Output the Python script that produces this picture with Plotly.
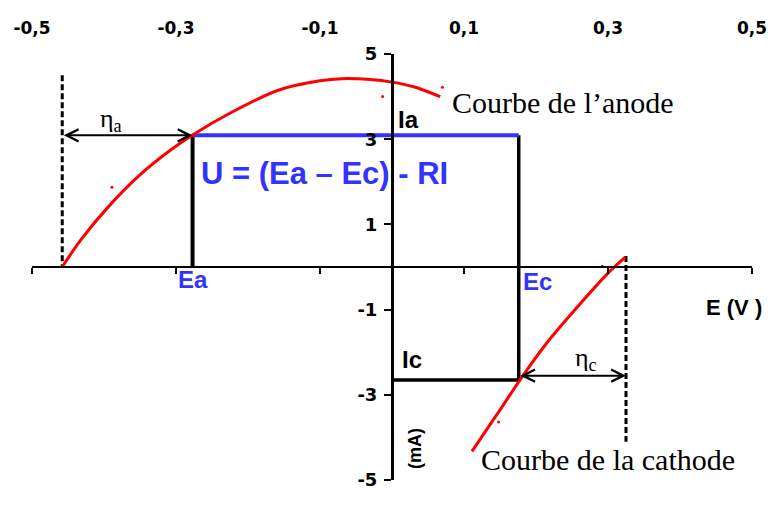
import plotly.graph_objects as go

# anode polarisation curve (E in V, I in mA)
anode_e = [-0.458, -0.433, -0.391, -0.349, -0.308, -0.277, -0.224, -0.158, -0.10, -0.07, -0.03, 0.0, 0.03, 0.067]
anode_i = [0.0, 0.62, 1.47, 2.18, 2.74, 3.10, 3.62, 4.15, 4.37, 4.42, 4.40, 4.34, 4.23, 4.0]

# cathode polarisation curve
cathode_e = [0.111, 0.123, 0.151, 0.179, 0.216, 0.262, 0.299, 0.324]
cathode_i = [-4.33, -4.03, -3.33, -2.62, -1.76, -0.85, -0.16, 0.23]

# stray dots from the scan
dots_e = [-0.013, -0.389, 0.07, 0.148, 0.292]
dots_i = [4.0, 1.87, 4.22, -3.64, 0.02]

# operating point
e_a, e_c = -0.277, 0.176
i_a, i_c = 3.09, -2.65
# equilibrium potentials
e_eq_a, e_eq_c = -0.458, 0.325

tick_vals_x = [-0.5, -0.3, -0.1, 0.1, 0.3, 0.5]
tick_text_x = ["-0,5", "-0,3", "-0,1", "0,1", "0,3", "0,5"]
tick_vals_y = [-5, -3, -1, 1, 3, 5]
tick_text_y = ["-5", "-3", "-1", "1", "3", "5"]

SANS = "Liberation Sans, Arial"
TICK = "DejaVu Sans"
SERIF = "Liberation Serif, Times New Roman"
BLUE = "#3333ff"

fig = go.Figure()

# dashed equilibrium lines
fig.add_trace(go.Scatter(x=[e_eq_a, e_eq_a], y=[4.5, 0], mode="lines",
                         line=dict(color="black", width=3, dash="6px,3px")))
fig.add_trace(go.Scatter(x=[e_eq_c, e_eq_c], y=[0.26, -4.1], mode="lines",
                         line=dict(color="black", width=3, dash="6px,3px")))

# Ea / Ec verticals and Ic horizontal
fig.add_trace(go.Scatter(x=[e_a, e_a], y=[0, i_a], mode="lines",
                         line=dict(color="black", width=4)))
fig.add_trace(go.Scatter(x=[e_c, e_c, 0], y=[i_a, i_c, i_c], mode="lines",
                         line=dict(color="black", width=3.5)))
# Ia level
fig.add_trace(go.Scatter(x=[e_a, e_c], y=[i_a, i_a], mode="lines",
                         line=dict(color=BLUE, width=4)))

# curves
fig.add_trace(go.Scatter(x=anode_e, y=anode_i, mode="lines",
                         line=dict(color="red", width=3, shape="spline", smoothing=0.8)))
fig.add_trace(go.Scatter(x=cathode_e, y=cathode_i, mode="lines",
                         line=dict(color="red", width=3, shape="spline", smoothing=0.8)))
fig.add_trace(go.Scatter(x=dots_e, y=dots_i, mode="markers",
                         marker=dict(color="red", size=3)))

# dummy trace for the free x axis
fig.add_trace(go.Scatter(x=[-0.5, 0.5], y=[0, 0], xaxis="x2", mode="markers",
                         marker=dict(opacity=0), hoverinfo="skip"))

ann = []
# overpotential arrows
ann.append(dict(x=e_a, y=i_a, ax=e_eq_a, ay=i_a, xref="x", yref="y", axref="x", ayref="y",
                text="", showarrow=True, arrowhead=5, arrowside="end+start",
                arrowsize=1.2, arrowwidth=2, arrowcolor="black"))
ann.append(dict(x=e_eq_c, y=-2.55, ax=e_c, ay=-2.55, xref="x", yref="y", axref="x", ayref="y",
                text="", showarrow=True, arrowhead=5, arrowside="end+start",
                arrowsize=1.2, arrowwidth=2, arrowcolor="black"))

def label(x, y, text, size, family=SANS, color="black", bold=True, xanchor="center", angle=0):
    ann.append(dict(x=x, y=y, xref="x", yref="y", text=("<b>%s</b>" % text) if bold else text,
                    showarrow=False, xanchor=xanchor, yanchor="middle", textangle=angle,
                    font=dict(family=family, size=size, color=color)))

label(-0.39, 3.45, "η<sub>a</sub>", 26, family=SERIF, bold=False)
label(0.269, -2.15, "η<sub>c</sub>", 26, family=SERIF, bold=False)
label(0.0799, 3.86, "Courbe de l’anode", 30, family=SERIF, bold=False, xanchor="left")
label(0.1215, -4.52, "Courbe de la cathode", 30, family=SERIF, bold=False, xanchor="left")
label(0.006, 3.47, "Ia", 24, xanchor="left")
label(0.011, -2.18, "Ic", 24, xanchor="left")
label(-0.276, -0.30, "Ea", 24, color=BLUE)
label(0.2017, -0.35, "Ec", 24, color=BLUE)
label(-0.094, 2.19, "U = (Ea – Ec) - RI", 31, color=BLUE)
label(0.475, -0.94, "E (V )", 22)
label(0.0326, -4.26, "(mA)", 18, angle=-90)

fig.update_layout(
    width=772, height=507,
    margin=dict(l=32, r=20, t=54, b=27),
    paper_bgcolor="white", plot_bgcolor="white",
    showlegend=False,
    annotations=ann,
    xaxis=dict(range=[-0.5, 0.5], side="top", showline=False, ticks="", zeroline=False,
               showgrid=False, tickvals=tick_vals_x, ticktext=tick_text_x, automargin=False,
               tickfont=dict(family=TICK, size=17, color="black", weight="bold"),
               ticklabelstandoff=16, ticklabeloverflow="allow"),
    xaxis2=dict(range=[-0.5, 0.5], overlaying="x", anchor="free", position=0.5, side="bottom",
                showline=True, linecolor="black", linewidth=2, ticks="outside", ticklen=6,
                tickwidth=2, tickcolor="black", tickvals=tick_vals_x, showticklabels=False,
                showgrid=False, zeroline=False, automargin=False),
    yaxis=dict(range=[-5, 5], anchor="free", position=0.5, showline=True, linecolor="black",
               linewidth=3, ticks="outside", ticklen=7, tickwidth=2, tickcolor="black",
               tickvals=tick_vals_y, ticktext=tick_text_y, showgrid=False, zeroline=False,
               tickfont=dict(family=TICK, size=18, color="black", weight="bold"),
               ticklabelstandoff=3, automargin=False),
)

# drop the default 8px body margin so the figure fills the window
fig.write_html("out.html", config={"displayModeBar": False},
               post_script="document.body.style.margin='0';")
